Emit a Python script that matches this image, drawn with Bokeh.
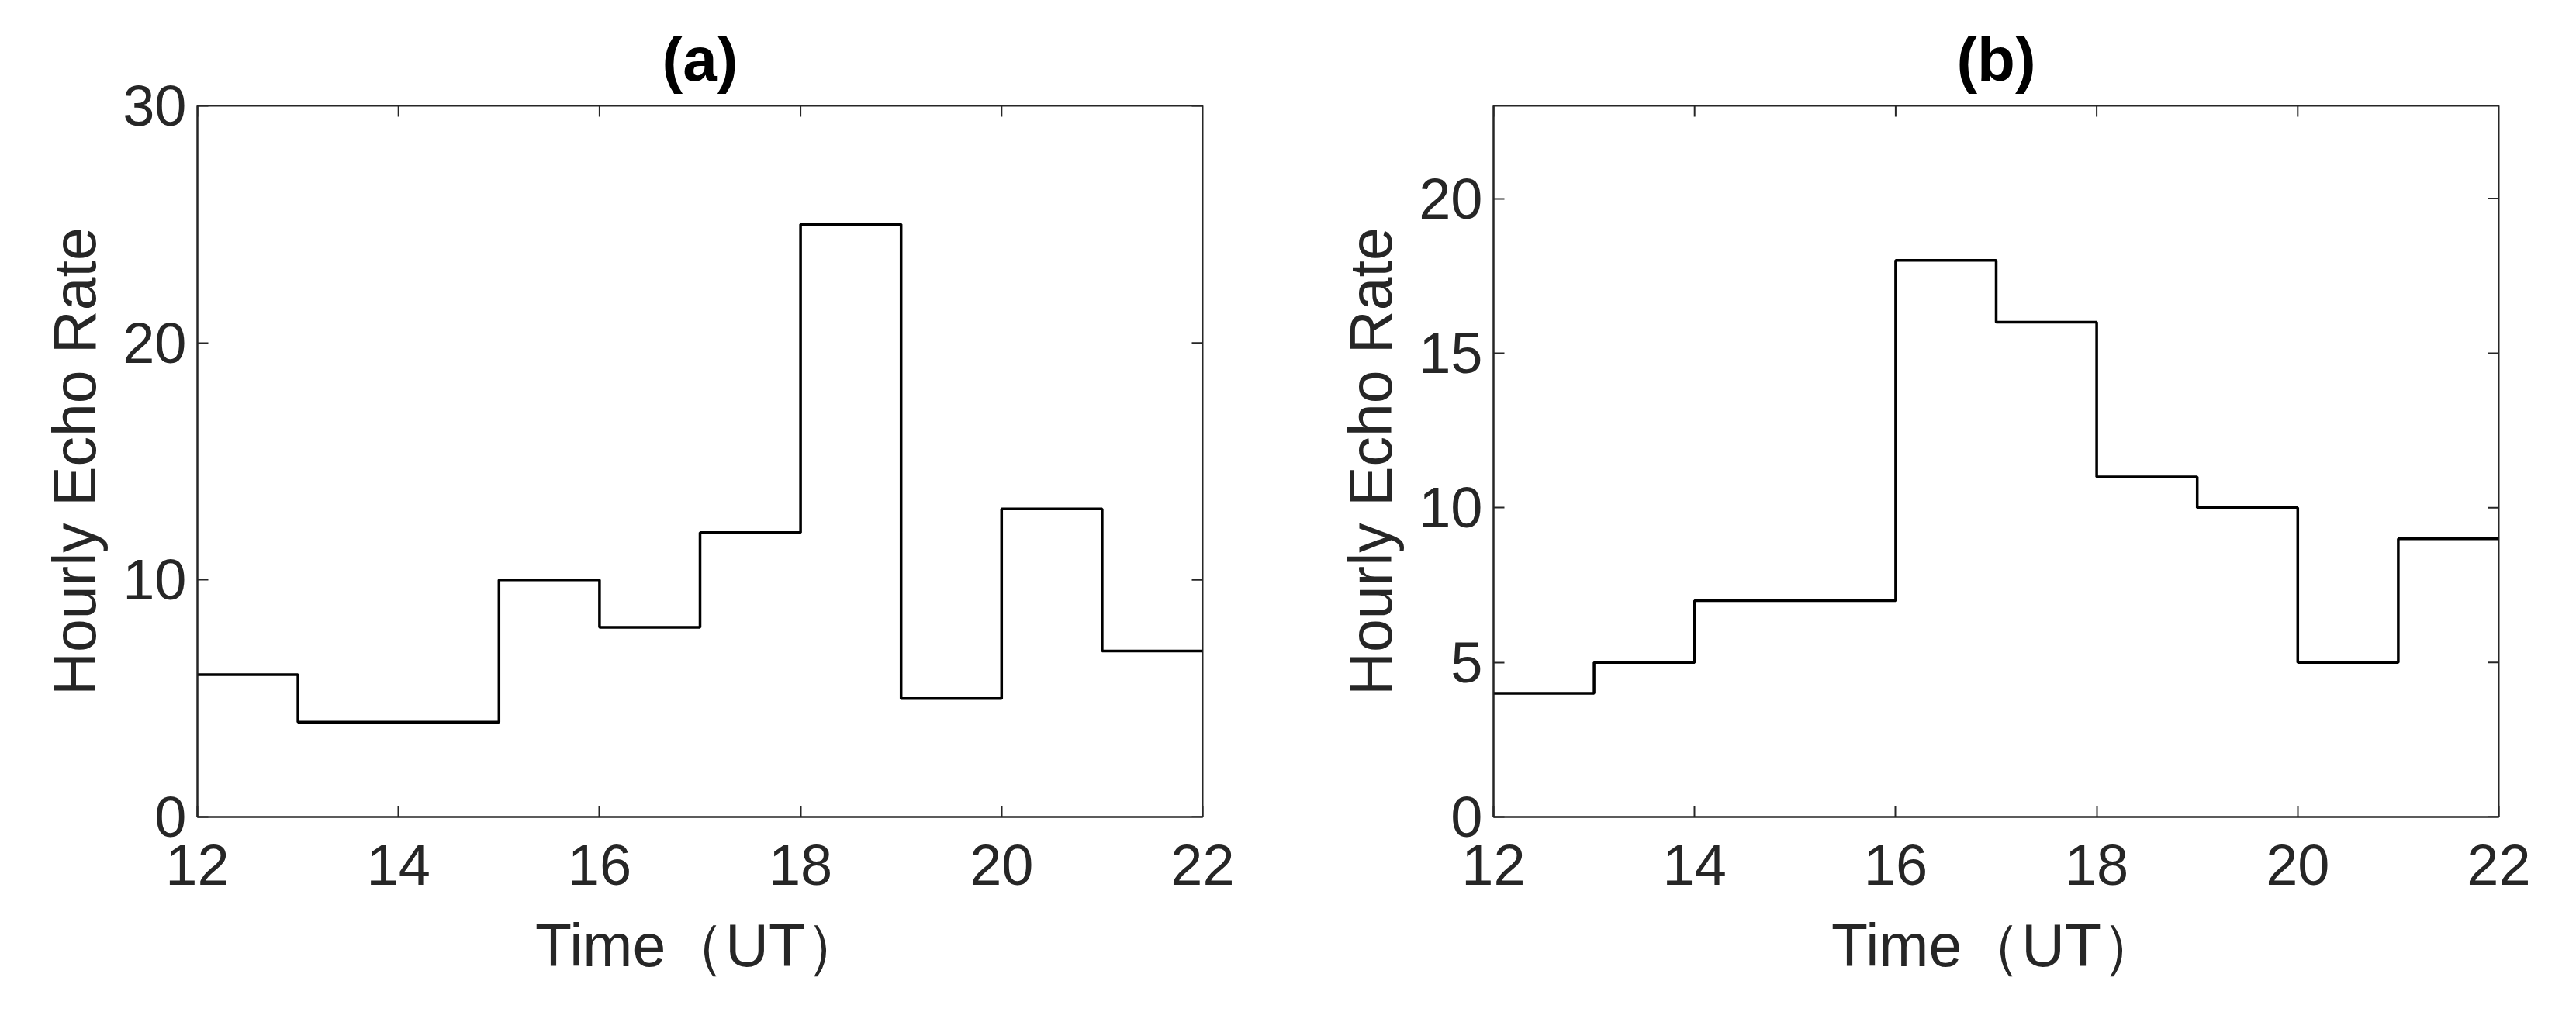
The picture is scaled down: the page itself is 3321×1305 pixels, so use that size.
import math
from bokeh.plotting import figure
from bokeh.layouts import row
from bokeh.models import LinearAxis, FixedTicker
from bokeh.embed import file_html
from bokeh.resources import INLINE

# ---- data ----
hour_edges = [12, 13, 14, 15, 16, 17, 18, 19, 20, 21, 22]
rate_a = [6, 4, 4, 10, 8, 12, 25, 5, 13, 7]
rate_b = [4, 5, 7, 7, 18, 16, 11, 10, 5, 9]
x_ticks = [12, 14, 16, 18, 20, 22]
y_ticks_a = [0, 10, 20, 30]
y_ticks_b = [0, 5, 10, 15, 20]
titles = ["(a)", "(b)"]
x_label = "Time（UT）"
y_label = "Hourly Echo Rate"

AX = "#262626"
FONT = "Liberation Sans"
TICK_LEN = 14


def style_axis(ax, ticks):
    ax.ticker = FixedTicker(ticks=ticks)
    ax.axis_line_color = AX
    ax.axis_line_width = 2
    ax.major_tick_line_color = AX
    ax.major_tick_line_width = 2
    ax.major_tick_in = TICK_LEN
    ax.major_tick_out = 0
    ax.minor_tick_line_color = None
    ax.major_label_text_font = FONT
    ax.major_label_text_color = AX
    ax.major_label_text_font_size = "74px"
    ax.axis_label_text_font = FONT
    ax.axis_label_text_color = AX
    ax.axis_label_text_font_style = "normal"
    ax.axis_label_text_font_size = "77px"


def make_panel(title, rates, yticks, ymax, width, bl, br):
    p = figure(width=width, height=1289, x_range=(12, 22), y_range=(0, ymax),
               output_backend="svg", toolbar_location=None,
               min_border_left=bl, min_border_right=br,
               min_border_top=136, min_border_bottom=236,
               x_axis_location=None, y_axis_location=None)
    p.title.text = title
    p.title.align = "center"
    p.title.text_font = FONT
    p.title.text_font_size = "80px"
    p.title.text_font_style = "bold"
    p.title.text_color = "#000000"
    p.title.standoff = 32
    p.outline_line_color = AX
    p.outline_line_width = 2
    p.xgrid.visible = False
    p.ygrid.visible = False
    p.background_fill_color = "white"
    p.border_fill_color = "white"

    xb = LinearAxis(axis_label=x_label)
    style_axis(xb, x_ticks)
    xb.major_label_standoff = 36
    xb.axis_label_standoff = 32
    p.add_layout(xb, "below")

    yl = LinearAxis(axis_label=y_label)
    style_axis(yl, yticks)
    yl.major_label_standoff = 14
    yl.axis_label_standoff = 16
    p.add_layout(yl, "left")

    # inward ticks on the top and right edges of the box
    p.ray(x=x_ticks, y=[ymax] * len(x_ticks), length=TICK_LEN, length_units="screen",
          angle=-math.pi / 2, line_color=AX, line_width=2)
    p.ray(x=[22] * len(yticks), y=yticks, length=TICK_LEN, length_units="screen",
          angle=math.pi, line_color=AX, line_width=2)

    ys = list(rates) + [rates[-1]]
    p.step(hour_edges, ys, mode="after", line_color="black", line_width=3.5)
    return p


pa = make_panel(titles[0], rate_a, y_ticks_a, 30, 1650, 254, 100)
pb = make_panel(titles[1], rate_b, y_ticks_b, 23, 1655, 275, 84)

layout = row(pa, pb)
open("out.html", "w").write(file_html(layout, INLINE))
